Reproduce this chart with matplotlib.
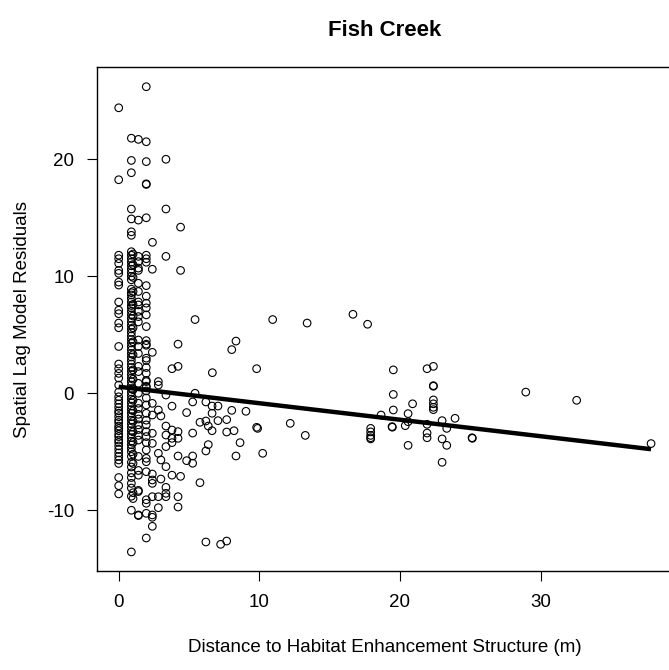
import matplotlib
matplotlib.use("Agg")
import matplotlib.pyplot as plt
import numpy as np

plt.rcParams['font.family'] = ['Liberation Sans', 'DejaVu Sans']
plt.rcParams['axes.unicode_minus'] = False

# ---- data ----
col0_y = [24.4, 18.25, 11.8, 11.5, 11.1, 10.5, 10.25, 9.5, 9.25, 7.8, 7.1, 6.8, 6.0, 5.6,
          4.0, 2.5, 2.1, 1.7, 1.3, 0.7, 0.1, -0.3, -0.6, -0.9, -1.2, -1.5, -1.7, -2.0,
          -2.3, -2.5, -2.8, -3.0, -3.2, -3.5, -3.7, -4.0, -4.2, -4.5, -4.8, -5.1, -5.4,
          -5.7, -6.0, -7.2, -7.9, -8.6]

col1_y = [21.8, 19.9, 18.85, 15.75, 14.9, 13.8, 13.5, 12.1, 11.8, 11.5, 11.2, 10.9, 10.6,
          10.3, 10.0, 9.7, 8.9, 8.6, 8.4, 8.1, 7.8, 7.5, 7.3, 7.0, 6.7, 6.4, 6.1, 5.8,
          5.5, 5.2, 4.9, 4.6, 4.3, 4.0, 3.7, 3.4, 3.1, 2.8, 2.5, 2.2, 1.9, 1.6, 1.3, 1.0,
          0.7, 0.4, 0.1, -0.2, -0.5, -0.8, -1.1, -1.4, -1.7, -2.0, -2.3, -2.6, -2.9,
          -3.2, -3.5, -3.8, -4.1, -4.4, -4.7, -5.0, -5.4, -5.9, -6.3, -6.8, -7.2, -7.7,
          -8.1, -8.8, -10.0, -13.56]

col1b_y = [11.9, 11.0, 9.9, 8.7, 7.6, 6.6, 5.6, 4.4, 3.3, 2.0, 1.2, 0.3, -0.6, -1.5,
           -2.4, -3.3, -4.2, -5.2, -6.0, -8.5, -9.0]

col14_y = [21.7, 14.8, 11.7, 11.25, 10.7, 10.5, 9.4, 8.7, 7.8, 7.55, 7.0, 6.55, 6.1,
           4.55, 4.0, 3.4, 2.3, 1.85, 0.85, 0.0, -0.85, -1.3, -1.8, -2.2, -2.7, -3.1,
           -3.6, -4.0, -5.4, -6.6, -7.0, -8.3, -8.4, -10.4, -10.45]

col2_y = [26.2, 21.5, 19.8, 17.9, 17.85, 15.0, 11.8, 11.5, 11.2, 9.2, 8.3, 7.7, 7.3, 6.7,
          5.7, 4.5, 4.2, 4.1, 3.0, 2.8, 2.2, 1.7, 1.1, 1.0, 0.6, 0.5, 0.2, -0.4, -1.0,
          -1.71, -2.3, -2.7, -3.28, -3.7, -4.22, -4.85, -5.56, -5.85, -6.7, -9.1, -9.4,
          -10.26, -12.37]

col_x = [0.0, 0.9, 1.02, 1.4, 1.96]

near_x = [3.36, 3.36, 4.4, 2.4, 3.36, 2.39, 4.4, 5.43, 10.95, 13.4, 16.66, 17.7, 4.22,
          8.34, 8.04, 2.39, 4.22, 3.79, 6.66, 9.81, 2.82, 2.82, 3.36, 5.43, 2.39, 5.26,
          6.2, 6.64, 7.06, 3.79, 4.83, 2.82, 2.39, 3.0, 8.04, 9.05, 6.64, 3.36, 3.79,
          4.22, 3.36, 3.79, 4.22, 3.79, 3.36, 2.39, 2.39, 2.82, 3.0, 3.36, 2.39, 3.0,
          2.39, 2.39, 3.36, 3.36, 2.82, 2.39, 3.36, 2.82, 2.39, 2.39, 2.39, 4.22, 4.22,
          3.79, 4.4, 4.22, 4.83, 5.26, 5.26, 5.78, 5.26, 6.2, 5.78, 6.37, 6.64, 7.06,
          7.68, 7.68, 8.2, 8.63, 6.37, 6.2, 8.34, 10.24, 9.81, 9.88, 12.2, 7.68, 7.25,
          6.2]
near_y = [20.0, 15.75, 14.2, 12.9, 11.7, 10.6, 10.5, 6.3, 6.3, 6.0, 6.75, 5.9, 4.2,
          4.46, 3.73, 3.5, 2.3, 2.1, 1.76, 2.1, 1.0, 0.7, -0.15, 0.0, -0.86, -0.74,
          -0.74, -1.09, -1.09, -1.1, -1.65, -1.43, -1.86, -1.94, -1.46, -1.54, -1.71,
          -2.8, -3.14, -3.28, -3.57, -3.85, -3.85, -4.22, -4.56, -3.42, -4.28, -5.13,
          -5.7, -6.27, -6.9, -7.33, -7.41, -7.7, -8.04, -8.55, -8.84, -8.84, -8.84,
          -9.78, -10.4, -10.6, -11.37, -8.84, -9.72, -7.0, -7.1, -5.36, -5.76, -5.36,
          -5.98, -7.64, -3.4, -2.37, -2.48, -2.8, -3.2, -2.34, -2.25, -3.31, -3.2,
          -4.22, -4.39, -4.93, -5.36, -5.13, -2.91, -3.0, -2.57, -12.63, -12.91, -12.71]

far_x = [19.53, 21.93, 22.38, 22.38, 22.38, 19.53, 22.38, 22.38, 22.38, 22.38, 20.9,
         19.53, 18.66, 20.58, 13.27, 17.92, 17.92, 17.92, 17.92, 17.92, 19.44, 19.46,
         20.38, 20.58, 21.93, 21.93, 21.93, 23.0, 23.0, 23.0, 23.33, 23.33, 23.92,
         20.58, 25.13, 25.15, 28.95, 32.57, 37.86]
far_y = [2.0, 2.1, 2.3, 0.6, 0.65, -0.1, -0.57, -0.9, -1.2, -1.4, -0.9, -1.43, -1.86,
         -1.74, -3.6, -3.0, -3.3, -3.6, -3.8, -3.9, -2.85, -2.9, -2.77, -2.43, -2.65,
         -3.4, -3.8, -2.34, -3.9, -5.9, -3.0, -4.45, -2.14, -4.45, -3.8, -3.85, 0.1,
         -0.6, -4.3]

fit_intercept = 0.56
fit_slope = -0.141

# ---- assemble ----
dist = []
resid = []
for cx, cy in zip(col_x, [col0_y, col1_y, col1b_y, col14_y, col2_y]):
    dist += [cx] * len(cy)
    resid += cy
dist += near_x + far_x
resid += near_y + far_y
dist = np.array(dist)
resid = np.array(resid)

fig = plt.figure(figsize=(6.69, 6.70), dpi=100)
ax = fig.add_axes([97.4 / 669, 1 - 571 / 670, (672 - 97.4) / 669, (571 - 67.3) / 670])

ax.scatter(dist, resid, s=30, facecolors='none', edgecolors='black', linewidths=0.8, zorder=3)
xl = np.array([0.0, dist.max()])
ax.plot(xl, fit_intercept + fit_slope * xl, color='black', lw=3.2, solid_capstyle='butt', zorder=4)

ax.set_xlim(-1.515, 39.35)
ax.set_ylim(-15.19, 27.86)
ax.set_xticks([0, 10, 20, 30])
ax.set_yticks([-10, 0, 10, 20])
ax.tick_params(direction='out', length=7.2, width=0.8, labelsize=13.5, pad=9.5)
for s in ax.spines.values():
    s.set_linewidth(1.0)

ax.set_xlabel('Distance to Habitat Enhancement Structure (m)', fontsize=13.5)
ax.xaxis.set_label_coords(0.5, -(647 - 571) / (571 - 67.3))
ax.xaxis.label.set_va('center')
ax.set_ylabel('Spatial Lag Model Residuals', fontsize=13.5)
ax.yaxis.set_label_coords(-(97.4 - 23) / (672 - 97.4), 0.5)
ax.yaxis.label.set_va('center')

fig.text(384.7 / 669, 1 - 30 / 670, 'Fish Creek', fontsize=16, fontweight='bold',
         ha='center', va='center')

fig.savefig('out.png', dpi=100)
